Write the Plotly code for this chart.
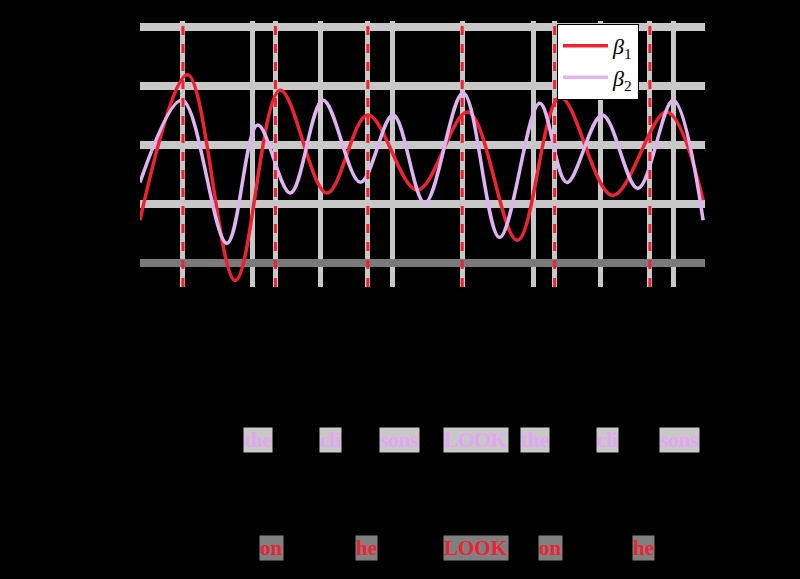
import plotly.graph_objects as go

# --- data ---
beta1_x = [0.00, 0.51, 1.02, 1.50, 2.00, 2.44, 2.97, 3.51, 4.04, 4.50, 5.06, 5.64, 6.03]
beta1_y = [0.73, 3.19, -0.29, 2.93, 1.19, 2.51, 1.24, 2.56, 0.39, 2.81, 1.15, 2.56, 1.07]

beta2_x = [0.00, 0.45, 0.93, 1.26, 1.61, 1.96, 2.36, 2.71, 3.05, 3.46, 3.85, 4.28, 4.57, 4.95, 5.33, 5.71, 6.03]
beta2_y = [1.37, 2.76, 0.34, 2.34, 1.19, 2.76, 1.37, 2.51, 1.02, 2.88, 0.44, 2.71, 1.37, 2.51, 1.27, 2.76, 0.73]

marker_x = [0.46, 1.45, 2.44, 3.45, 4.44, 5.46]
grid_x = [0.46, 1.20, 1.45, 1.93, 2.44, 2.70, 3.45, 4.21, 4.44, 4.93, 5.46, 5.71]
y_ticks = [0, 1, 2, 3, 4]

top_tokens = ["the", "cli", "sons", "LOOK", "the", "cli", "sons"]
top_token_x = [1.26, 2.04, 2.78, 3.60, 4.23, 5.01, 5.78]
bottom_tokens = ["on", "he", "LOOK", "on", "he"]
bottom_token_x = [1.41, 2.43, 3.60, 4.40, 5.39]

RED = "#ee2233"
PLUM = "#dfb3f0"

fig = go.Figure()
fig.add_trace(go.Scatter(x=beta1_x, y=beta1_y, mode="lines", name="<i>β</i><sub>1</sub>",
                         line=dict(color=RED, width=3.5, shape="spline", smoothing=1.0),
                         cliponaxis=False))
fig.add_trace(go.Scatter(x=beta2_x, y=beta2_y, mode="lines", name="<i>β</i><sub>2</sub>",
                         line=dict(color=PLUM, width=3.5, shape="spline", smoothing=1.0),
                         cliponaxis=False))

for xv in marker_x:
    fig.add_shape(type="line", x0=xv, x1=xv, y0=0, y1=1.0, xref="x", yref="paper",
                  line=dict(color=RED, width=3, dash="dash"), layer="above")

for txt, xv in zip(top_tokens, top_token_x):
    fig.add_annotation(x=xv, xref="x", y=-0.575, yref="paper", yanchor="middle",
                       text="<b>%s</b>" % txt, showarrow=False,
                       font=dict(family="Liberation Serif", size=21, color="#e6a4f8"),
                       bgcolor="#c8c8c8", borderpad=0)
for txt, xv in zip(bottom_tokens, bottom_token_x):
    fig.add_annotation(x=xv, xref="x", y=-0.981, yref="paper", yanchor="middle",
                       text="<b>%s</b>" % txt, showarrow=False,
                       font=dict(family="Liberation Serif", size=21, color=RED),
                       bgcolor="#808080", borderpad=0)

fig.update_layout(
    width=800, height=579,
    margin=dict(l=140, r=95, t=21, b=292),
    paper_bgcolor="black", plot_bgcolor="black",
    showlegend=True,
    legend=dict(x=0.738, y=0.989, xanchor="left", yanchor="top",
                bgcolor="white", bordercolor="black", borderwidth=1,
                itemwidth=45, tracegroupgap=0,
                font=dict(family="Liberation Serif", size=22, color="black")),
    xaxis=dict(range=[0, 6.05], tickvals=grid_x, ticktext=[""] * len(grid_x),
               showgrid=True, gridcolor="#c8c8c8", gridwidth=5, zeroline=False,
               showline=False, tickfont=dict(color="black")),
    yaxis=dict(range=[-0.4, 4.1], tickvals=y_ticks, showgrid=True, gridcolor="#c8c8c8",
               gridwidth=8, zeroline=True, zerolinecolor="#7a7a7a", zerolinewidth=8,
               showline=False, tickfont=dict(color="black", size=10)),
)

fig.write_html("out.html")
